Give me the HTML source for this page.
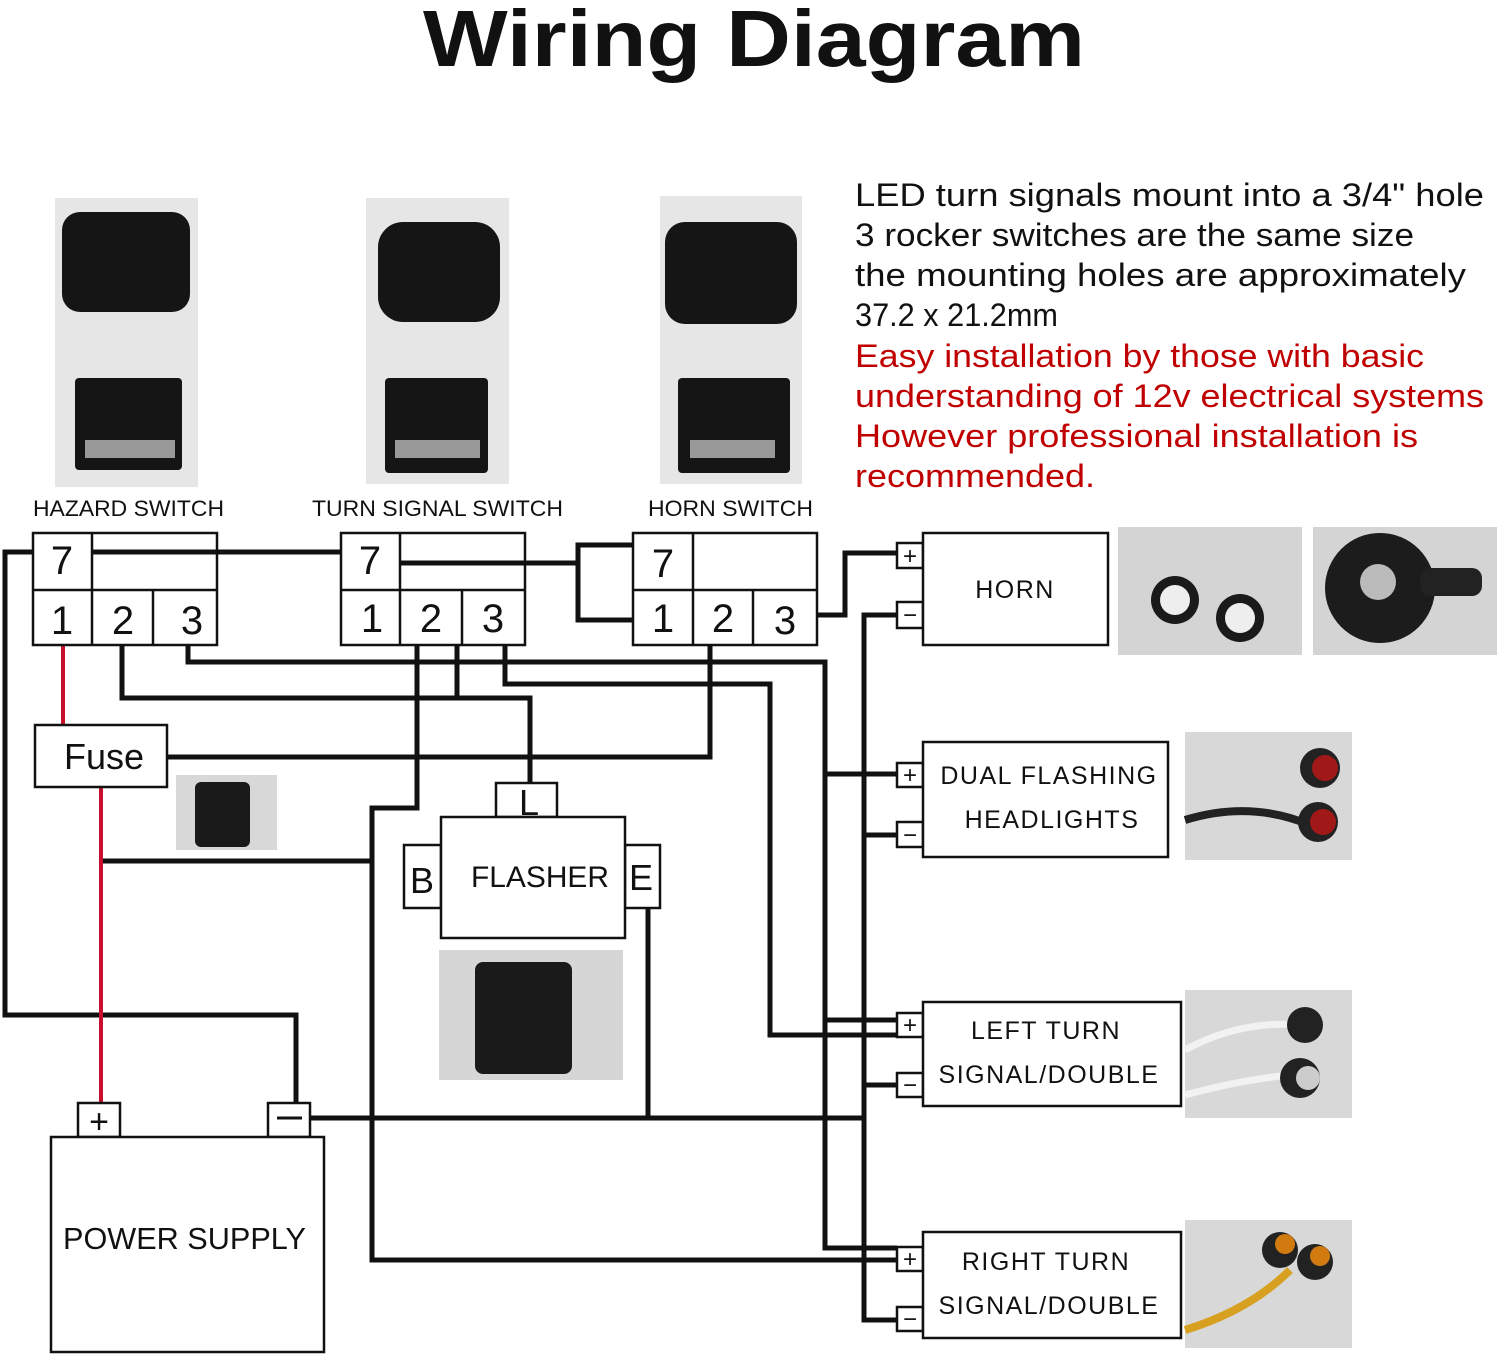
<!DOCTYPE html>
<html><head><meta charset="utf-8"><style>
html,body{margin:0;padding:0;background:#fff;}
svg{display:block;font-family:"Liberation Sans",sans-serif;}
</style></head><body>
<svg width="1500" height="1360" viewBox="0 0 1500 1360" xmlns="http://www.w3.org/2000/svg">
<rect width="1500" height="1360" fill="#fff"/>
<text x="423" y="66" font-size="80" font-weight="bold" fill="#111" textLength="662" lengthAdjust="spacingAndGlyphs">Wiring Diagram</text>
<g font-size="32" fill="#111">
<text x="855" y="206" textLength="629" lengthAdjust="spacingAndGlyphs">LED turn signals mount into a 3/4" hole</text>
<text x="855" y="246" textLength="559" lengthAdjust="spacingAndGlyphs">3 rocker switches are the same size</text>
<text x="855" y="286" textLength="611" lengthAdjust="spacingAndGlyphs">the mounting holes are approximately</text>
<text x="855" y="326" textLength="203" lengthAdjust="spacingAndGlyphs">37.2 x 21.2mm</text>
<g fill="#c00000">
<text x="855" y="367" textLength="569" lengthAdjust="spacingAndGlyphs">Easy installation by those with basic</text>
<text x="855" y="407" textLength="629" lengthAdjust="spacingAndGlyphs">understanding of 12v electrical systems</text>
<text x="855" y="447" textLength="563" lengthAdjust="spacingAndGlyphs">However professional installation is</text>
<text x="855" y="487" textLength="240" lengthAdjust="spacingAndGlyphs">recommended.</text></g></g>

<!-- switch photos -->
<g>
<rect x="55" y="198" width="143" height="289" fill="#e6e6e6"/>
<rect x="62" y="212" width="128" height="100" rx="18" fill="#151515"/>
<rect x="75" y="378" width="107" height="92" rx="4" fill="#151515"/>
<rect x="85" y="440" width="90" height="18" fill="#999"/>
<rect x="366" y="198" width="143" height="286" fill="#e6e6e6"/>
<rect x="378" y="222" width="122" height="100" rx="25" fill="#151515"/>
<rect x="385" y="378" width="103" height="95" rx="4" fill="#151515"/>
<rect x="395" y="440" width="85" height="18" fill="#999"/>
<rect x="660" y="196" width="142" height="288" fill="#e6e6e6"/>
<rect x="665" y="222" width="132" height="102" rx="20" fill="#151515"/>
<rect x="678" y="378" width="112" height="95" rx="4" fill="#151515"/>
<rect x="690" y="440" width="85" height="18" fill="#999"/>
</g>
<g font-size="22" fill="#111">
<text x="33" y="516" textLength="191" lengthAdjust="spacingAndGlyphs">HAZARD SWITCH</text>
<text x="312" y="516" textLength="251" lengthAdjust="spacingAndGlyphs">TURN SIGNAL SWITCH</text>
<text x="648" y="516" textLength="165" lengthAdjust="spacingAndGlyphs">HORN SWITCH</text>
</g>

<!-- wires black -->
<g stroke="#111" stroke-width="5" fill="none" stroke-linejoin="miter">
<polyline points="33,552 5,552 5,1015 296,1015 296,1103"/>
<line x1="92" y1="552" x2="341" y2="552"/>
<line x1="400" y1="563" x2="578" y2="563"/>
<polyline points="633,545 578,545 578,620 633,620"/>
<polyline points="817,615 845,615 845,553 897,553"/>
<polyline points="897,615 864,615 864,1320 897,1320"/>
<line x1="864" y1="835" x2="897" y2="835"/>
<line x1="864" y1="1085" x2="897" y2="1085"/>
<line x1="310" y1="1118" x2="864" y2="1118"/>
<line x1="648" y1="908" x2="648" y2="1118"/>
<polyline points="417,645 417,808 372,808 372,1260 897,1260"/>
<line x1="101" y1="861" x2="372" y2="861"/>
<polyline points="167,757 710,757 710,645"/>
<polyline points="122,645 122,698 530,698 530,783"/>
<line x1="457" y1="645" x2="457" y2="698"/>
<polyline points="188,645 188,662 825,662 825,1248 897,1248"/>
<line x1="825" y1="1020" x2="897" y2="1020"/>
<line x1="825" y1="774" x2="897" y2="774"/>
<polyline points="505,645 505,684 770,684 770,1035 897,1035"/>
</g>
<!-- red -->
<g stroke="#c8102e" stroke-width="4" fill="none">
<line x1="63" y1="645" x2="63" y2="725"/>
<line x1="101" y1="787" x2="101" y2="1103"/>
</g>

<!-- switch boxes -->
<g stroke="#111" stroke-width="2.5" fill="none">
<rect x="33" y="533" width="184" height="112" fill="#fff"/>
<line x1="33" y1="590" x2="217" y2="590"/><line x1="92" y1="533" x2="92" y2="645"/><line x1="153" y1="590" x2="153" y2="645"/>
<rect x="341" y="533" width="184" height="112" fill="#fff"/>
<line x1="341" y1="590" x2="525" y2="590"/><line x1="400" y1="533" x2="400" y2="645"/><line x1="462" y1="590" x2="462" y2="645"/>
<rect x="633" y="533" width="184" height="112" fill="#fff"/>
<line x1="633" y1="590" x2="817" y2="590"/><line x1="693" y1="533" x2="693" y2="645"/><line x1="753" y1="590" x2="753" y2="645"/>
</g>
<g stroke="#111" stroke-width="5">
<line x1="92" y1="552" x2="217" y2="552"/>
<line x1="400" y1="563" x2="525" y2="563"/>
</g>
<g font-size="40" fill="#111" text-anchor="middle">
<text x="62" y="574">7</text><text x="62" y="634">1</text><text x="123" y="634">2</text><text x="192" y="634">3</text>
<text x="370" y="574">7</text><text x="372" y="632">1</text><text x="431" y="632">2</text><text x="493" y="632">3</text>
<text x="663" y="577">7</text><text x="663" y="632">1</text><text x="723" y="632">2</text><text x="785" y="634">3</text>
</g>

<!-- fuse -->
<rect x="35" y="725" width="132" height="62" fill="#fff" stroke="#111" stroke-width="2.5"/>
<text x="104" y="769" font-size="36" text-anchor="middle" fill="#111">Fuse</text>
<rect x="176" y="775" width="101" height="75" fill="#d8d8d8"/>
<rect x="195" y="782" width="55" height="65" rx="6" fill="#1a1a1a"/>

<!-- flasher -->
<g stroke="#111" stroke-width="2.5" fill="#fff">
<rect x="496" y="783" width="61" height="34"/>
<rect x="404" y="845" width="37" height="63"/>
<rect x="625" y="845" width="35" height="63"/>
<rect x="441" y="817" width="184" height="121"/>
</g>
<g font-size="36" fill="#111" text-anchor="middle">
<text x="529" y="815">L</text>
<text x="422" y="893">B</text>
<text x="641" y="890">E</text>
</g>
<text x="540" y="887" font-size="30" text-anchor="middle" fill="#111" textLength="138" lengthAdjust="spacingAndGlyphs">FLASHER</text>
<rect x="439" y="950" width="184" height="130" fill="#d6d6d6"/>
<rect x="475" y="962" width="97" height="112" rx="8" fill="#1a1a1a"/>

<!-- battery -->
<g stroke="#111" stroke-width="2.5" fill="#fff">
<rect x="78" y="1103" width="42" height="34"/>
<rect x="268" y="1103" width="42" height="34"/>
<rect x="51" y="1137" width="273" height="215"/>
</g>
<text x="99" y="1133" font-size="34" text-anchor="middle" fill="#111">+</text>
<line x1="277" y1="1118" x2="302" y2="1118" stroke="#111" stroke-width="3"/>
<text x="63" y="1249" font-size="31" fill="#111" textLength="243" lengthAdjust="spacingAndGlyphs">POWER SUPPLY</text>

<!-- loads -->
<g stroke="#111" stroke-width="2.5" fill="#fff">
<rect x="897" y="543" width="26" height="25"/><rect x="897" y="602" width="26" height="26"/>
<rect x="923" y="533" width="185" height="112"/>
<rect x="897" y="763" width="26" height="24"/><rect x="897" y="822" width="26" height="25"/>
<rect x="923" y="742" width="245" height="115"/>
<rect x="897" y="1013" width="26" height="24"/><rect x="897" y="1073" width="26" height="24"/>
<rect x="923" y="1002" width="258" height="104"/>
<rect x="897" y="1247" width="26" height="24"/><rect x="897" y="1307" width="26" height="24"/>
<rect x="923" y="1232" width="258" height="106"/>
</g>
<g font-size="24" fill="#111" text-anchor="middle">
<text x="910" y="564">+</text><text x="910" y="623">−</text>
<text x="910" y="783">+</text><text x="910" y="843">−</text>
<text x="910" y="1033">+</text><text x="910" y="1093">−</text>
<text x="910" y="1267">+</text><text x="910" y="1327">−</text>
</g>
<g font-size="25" fill="#111" text-anchor="middle" letter-spacing="1.5">
<text x="1015" y="598">HORN</text>
<text x="1049" y="784">DUAL FLASHING</text>
<text x="1052" y="828">HEADLIGHTS</text>
<text x="1046" y="1039">LEFT TURN</text>
<text x="1049" y="1083">SIGNAL/DOUBLE</text>
<text x="1046" y="1270">RIGHT TURN</text>
<text x="1049" y="1314">SIGNAL/DOUBLE</text>
</g>

<!-- load photos -->
<rect x="1118" y="527" width="184" height="128" fill="#d4d4d4"/>
<circle cx="1175" cy="600" r="24" fill="#1a1a1a"/><circle cx="1175" cy="600" r="15" fill="#eee"/>
<circle cx="1240" cy="618" r="24" fill="#1a1a1a"/><circle cx="1240" cy="618" r="15" fill="#eee"/>
<rect x="1313" y="527" width="184" height="128" fill="#d4d4d4"/>
<circle cx="1380" cy="588" r="55" fill="#1c1c1c"/><circle cx="1378" cy="582" r="18" fill="#bbb"/>
<rect x="1420" y="568" width="62" height="28" rx="10" fill="#222"/>
<rect x="1185" y="732" width="167" height="128" fill="#d8d8d8"/>
<path d="M1185,820 Q1250,800 1310,825" stroke="#222" stroke-width="8" fill="none"/>
<circle cx="1320" cy="768" r="20" fill="#222"/><circle cx="1325" cy="768" r="13" fill="#a01818"/>
<circle cx="1318" cy="822" r="20" fill="#222"/><circle cx="1323" cy="822" r="13" fill="#a01818"/>
<rect x="1185" y="990" width="167" height="128" fill="#d8d8d8"/>
<path d="M1185,1050 Q1240,1020 1300,1025" stroke="#f2f2f2" stroke-width="7" fill="none"/>
<path d="M1185,1095 Q1240,1080 1290,1075" stroke="#f2f2f2" stroke-width="7" fill="none"/>
<circle cx="1305" cy="1025" r="18" fill="#222"/><circle cx="1300" cy="1078" r="20" fill="#222"/><circle cx="1308" cy="1078" r="12" fill="#ccc"/>
<rect x="1185" y="1220" width="167" height="128" fill="#d8d8d8"/>
<path d="M1185,1330 Q1250,1310 1290,1270" stroke="#d8a020" stroke-width="8" fill="none"/>
<circle cx="1280" cy="1250" r="18" fill="#222"/><circle cx="1285" cy="1244" r="10" fill="#d07a10"/>
<circle cx="1315" cy="1262" r="18" fill="#222"/><circle cx="1320" cy="1256" r="10" fill="#d07a10"/>
</svg>
</body></html>
